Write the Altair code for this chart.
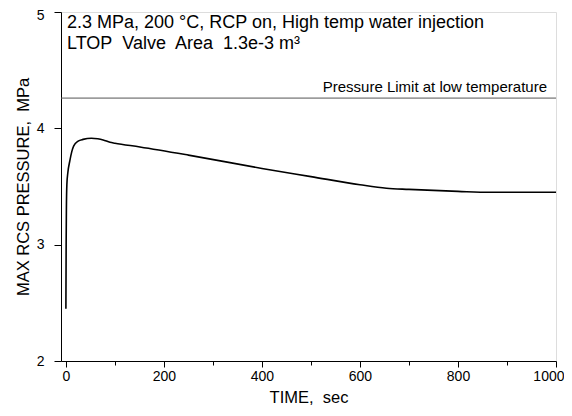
import altair as alt
import pandas as pd

# Data
time_s = [0, 0.5, 1, 2, 4, 8, 12, 16, 25, 35, 52, 65, 76, 90, 100, 151, 250, 400, 500, 600, 654, 700, 800, 865, 1000]
pressure = [2.45, 3.0, 3.3, 3.52, 3.62, 3.72, 3.8, 3.85, 3.89, 3.905, 3.915, 3.91, 3.9, 3.88, 3.872, 3.84,
            3.77, 3.655, 3.585, 3.515, 3.485, 3.475, 3.458, 3.45, 3.45]
limit_value = [4.26]
limit_label = ["Pressure Limit at low temperature"]
NB = "\u00a0"
note_line1 = "2.3 MPa, 200 \u00b0C, RCP on, High temp water injection"
note_line2 = f"LTOP{NB} Valve{NB} Area{NB} 1.3e-3 m\u00b3"
x_ticks = [0, 100, 200, 300, 400, 500, 600, 700, 800, 900, 1000]
y_ticks = [2, 2.5, 3, 3.5, 4, 4.5, 5]

FONT = "Liberation Sans"
W, H = 495, 349

df = pd.DataFrame({"t": time_s, "p": pressure})
lim_df = pd.DataFrame({"p": limit_value, "label": limit_label})

x_scale = alt.Scale(domain=[-10, 1000], nice=False, zero=False)
y_scale = alt.Scale(domain=[2, 5], nice=False, zero=False)

x_axis = alt.Axis(
    title=f"TIME,{NB} sec", values=x_ticks, grid=False, format="d",
    labelExpr="datum.value % 200 === 0 ? datum.label : ''",
    tickSize={"condition": {"test": "datum.value % 200 === 0", "value": 6}, "value": 4},
    labelAlign={"condition": {"test": "datum.value === 1000", "value": "right"}, "value": "center"},
    labelOffset={"condition": {"test": "datum.value === 1000", "value": 8}, "value": 0},
    tickColor="black", domainColor="black", labelColor="black", titleColor="black",
    labelFont=FONT, titleFont=FONT, labelFontSize=14, titleFontSize=16.5,
    titleFontWeight="normal", labelPadding=2, titlePadding=6,
    labelFlush=False, labelOverlap=False,
)
y_axis = alt.Axis(
    title=f"MAX RCS PRESSURE,{NB} MPa", values=y_ticks, grid=False, format="d",
    labelExpr="datum.value % 1 === 0 ? datum.label : ''",
    tickSize={"condition": {"test": "datum.value % 1 === 0", "value": 7}, "value": 4},
    labelOffset={"condition": {"test": "datum.value === 5", "value": 3}, "value": 0},
    tickColor="black", domainColor="black", labelColor="black", titleColor="black",
    labelFont=FONT, titleFont=FONT, labelFontSize=14, titleFontSize=16.5,
    titleFontWeight="normal", labelPadding=10, titlePadding=5,
    labelFlush=False, labelOverlap=False,
)

curve = alt.Chart(df).mark_line(color="black", strokeWidth=1.6, interpolate="monotone").encode(
    x=alt.X("t:Q", scale=x_scale, axis=x_axis),
    y=alt.Y("p:Q", scale=y_scale, axis=y_axis),
)

limit = alt.Chart(lim_df).mark_rule(color="#555555", strokeWidth=1).encode(
    y=alt.Y("p:Q", scale=y_scale, axis=y_axis),
)
limit_text = alt.Chart(lim_df).mark_text(
    align="right", baseline="alphabetic", font=FONT, fontSize=15, color="black", dy=-6, dx=-9
).encode(
    x=alt.value(W), y=alt.Y("p:Q", scale=y_scale, axis=y_axis), text="label:N"
)

note1 = alt.Chart(lim_df).mark_text(
    align="left", baseline="alphabetic", font=FONT, fontSize=18, color="black", text=note_line1
).encode(x=alt.value(6), y=alt.value(16))
note2 = alt.Chart(lim_df).mark_text(
    align="left", baseline="alphabetic", font=FONT, fontSize=18, color="black", text=note_line2
).encode(x=alt.value(6), y=alt.value(37))

chart = alt.layer(curve, limit, limit_text, note1, note2).properties(
    width=W, height=H,
    autosize=alt.AutoSizeParams(type="none"),
    padding={"left": 53, "top": 4, "right": 8, "bottom": 45},
).configure_view(stroke="black", strokeWidth=1).configure(background="white")

chart.save("out.html", embed_options={"renderer": "svg", "actions": False})
